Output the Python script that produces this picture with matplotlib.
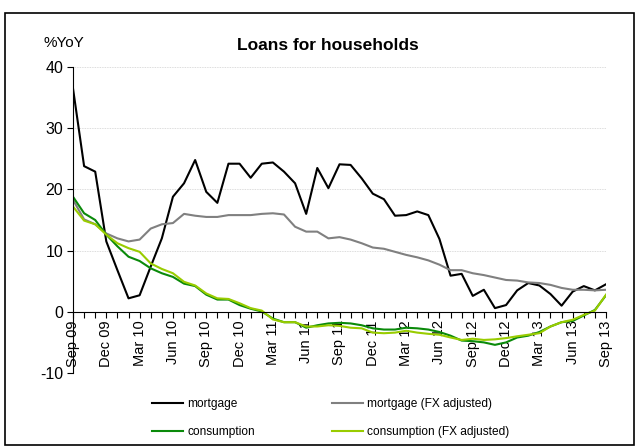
import matplotlib
matplotlib.use("Agg")
import matplotlib.pyplot as plt
import numpy as np
from matplotlib.patches import Rectangle

plt.rcParams["font.family"] = ["Liberation Sans", "DejaVu Sans"]
plt.rcParams["axes.unicode_minus"] = False

tick_labels = ["Sep 09", "Dec 09", "Mar 10", "Jun 10", "Sep 10", "Dec 10", "Mar 11",
               "Jun 11", "Sep 11", "Dec 11", "Mar 12", "Jun 12", "Sep 12", "Dec 12",
               "Mar 13", "Jun 13", "Sep 13"]

mortgage = [36.5, 23.8, 22.9, 11.5, 6.8, 2.2, 2.7, 7.4, 12.0, 18.8, 21.0, 24.8, 19.6,
            17.8, 24.2, 24.2, 21.9, 24.2, 24.4, 22.9, 21.0, 16.0, 23.5, 20.2, 24.1,
            24.0, 21.8, 19.3, 18.4, 15.7, 15.8, 16.4, 15.8, 11.9, 5.9, 6.2, 2.6, 3.6,
            0.6, 1.1, 3.5, 4.7, 4.3, 2.9, 1.0, 3.3, 4.2, 3.5, 4.5]
mortgage_fx = [18.3, 15.1, 14.3, 12.8, 12.0, 11.5, 11.8, 13.6, 14.3, 14.5, 16.0, 15.7,
               15.5, 15.5, 15.8, 15.8, 15.8, 16.0, 16.1, 15.9, 13.9, 13.1, 13.1, 12.0,
               12.2, 11.8, 11.2, 10.5, 10.3, 9.8, 9.3, 8.9, 8.4, 7.7, 6.8, 6.8, 6.3,
               6.0, 5.6, 5.2, 5.1, 4.8, 4.7, 4.4, 3.9, 3.6, 3.6, 3.5, 3.6]
consumption = [18.8, 16.1, 15.0, 12.6, 10.7, 9.0, 8.3, 7.1, 6.3, 5.7, 4.6, 4.2, 2.8,
               2.0, 2.0, 1.1, 0.5, 0.05, -1.1, -1.7, -1.7, -2.6, -2.2, -1.9, -1.8, -1.9,
               -2.2, -2.7, -2.9, -2.9, -2.6, -2.7, -2.9, -3.3, -3.9, -4.7, -4.8, -5.0,
               -5.4, -5.0, -4.2, -3.9, -3.3, -2.4, -1.7, -1.5, -0.6, 0.3, 2.7]
consumption_fx = [17.2, 14.9, 14.3, 12.6, 11.2, 10.4, 9.8, 7.9, 7.0, 6.3, 4.9, 4.3, 3.0,
                  2.2, 2.1, 1.4, 0.6, 0.2, -1.25, -1.7, -1.7, -2.4, -2.4, -2.2, -2.3,
                  -2.6, -2.7, -3.4, -3.5, -3.4, -3.1, -3.4, -3.6, -3.75, -4.2, -4.6,
                  -4.4, -4.6, -4.5, -4.3, -4.0, -3.75, -3.5, -2.4, -1.7, -1.3, -0.5,
                  0.2, 2.8]

months = np.arange(len(mortgage))

fig = plt.figure(figsize=(6.39, 4.48), dpi=100)
fig.patch.set_facecolor("white")
ax = fig.add_axes([73 / 639, 75 / 448, 533 / 639, 306 / 448])

l1, = ax.plot(months, mortgage, color="black", lw=1.5, label="mortgage")
l2, = ax.plot(months, mortgage_fx, color="#808080", lw=1.5, label="mortgage (FX adjusted)")
l3, = ax.plot(months, consumption, color="#0a8a0a", lw=1.5, label="consumption")
l4, = ax.plot(months, consumption_fx, color="#99cc00", lw=1.5, label="consumption (FX adjusted)")

ax.set_xlim(0, len(months) - 1)
ax.set_ylim(-10, 40)
ax.set_yticks([-10, 0, 10, 20, 30, 40])
for y in [-10, 10, 20, 30, 40]:
    ax.axhline(y, color="#d0d0d0", lw=0.6, ls=(0, (1, 1)), zorder=0)

ax.spines["top"].set_visible(False)
ax.spines["right"].set_visible(False)
ax.spines["bottom"].set_position(("data", 0))
ax.spines["left"].set_bounds(-10, 40)

ax.set_xticks(months[::3])
ax.set_xticklabels(tick_labels, rotation=90, fontsize=10.5)
ax.set_xticks(months, minor=True)
ax.tick_params(axis="x", which="both", direction="out", length=4, width=0.8, pad=2)
ax.tick_params(axis="y", direction="out", length=4, width=0.8, labelsize=11.5, pad=3)

fig.text(43 / 639, 1 - 43 / 448, "%YoY", fontsize=11, va="center", ha="left")
fig.text(328 / 639, 1 - 46 / 448, "Loans for households", fontsize=12.5,
         fontweight="bold", va="center", ha="center")

# row-wise order: mortgage pair on top, consumption pair below
fig.legend([l1, l3, l2, l4], [l.get_label() for l in (l1, l3, l2, l4)],
           loc="center left", bbox_to_anchor=(141 / 639, 1 - 418 / 448), ncol=2,
           frameon=False, fontsize=8.6, handlelength=2.6, handletextpad=0.4,
           columnspacing=6.4, labelspacing=1.35)

fig.patches.append(Rectangle((5 / 639, 3 / 448), 629 / 639, 432 / 448,
                             transform=fig.transFigure, fill=False,
                             edgecolor="black", lw=1.2))

fig.savefig("out.png", dpi=100)
